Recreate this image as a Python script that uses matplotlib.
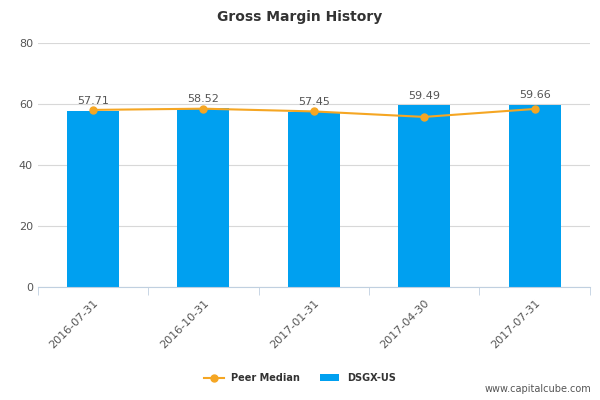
import matplotlib.pyplot as plt
import numpy as np

dates = ['2016-07-31', '2016-10-31', '2017-01-31', '2017-04-30', '2017-07-31']
dsgx = [57.71, 58.52, 57.45, 59.49, 59.66]
peer_median = [58.0, 58.4, 57.5, 55.7, 58.3]

fig = plt.figure(figsize=(6, 4), dpi=100)
ax = fig.add_axes([0.063, 0.283, 0.92, 0.61])
x = np.arange(len(dates))

ax.bar(x, dsgx, width=0.47, color='#00a0f0', label='DSGX-US', zorder=2)
ax.plot(x, peer_median, color='#f5a623', marker='o', markersize=5, lw=1.5,
        label='Peer Median', zorder=3)
for xi, v in zip(x, dsgx):
    ax.text(xi, v + 1.5, f'{v:.2f}', ha='center', va='bottom', fontsize=8, color='#555555')

ax.set_xlim(-0.5, len(dates) - 0.5)
ax.set_ylim(0, 80)
ax.set_yticks([0, 20, 40, 60, 80])
ax.set_xticks(np.arange(-0.5, len(dates), 1), minor=True)
ax.set_xticks(x)
ax.set_xticklabels(dates, rotation=45, ha='right', rotation_mode='anchor')
ax.tick_params(axis='x', which='major', length=0, labelsize=8, colors='#555555', pad=8)
ax.tick_params(axis='x', which='minor', length=6, color='#c0d0e0')
ax.tick_params(axis='y', length=0, labelsize=8, colors='#555555')
ax.grid(axis='y', color='#d8d8d8', lw=0.8, zorder=0)
for s in ['top', 'right', 'left']:
    ax.spines[s].set_visible(False)
ax.spines['bottom'].set_color('#c0d0e0')

fig.suptitle('Gross Margin History', x=0.5, y=0.975, fontsize=10, fontweight='bold', color='#333333')
fig.legend(loc='lower center', bbox_to_anchor=(0.5, 0.02), ncol=2, frameon=False,
           prop={'size': 7, 'weight': 'bold'}, labelcolor='#333333')
fig.text(0.985, 0.02, 'www.capitalcube.com', ha='right', fontsize=7, color='#555555')

fig.savefig('out.png', dpi=100)
